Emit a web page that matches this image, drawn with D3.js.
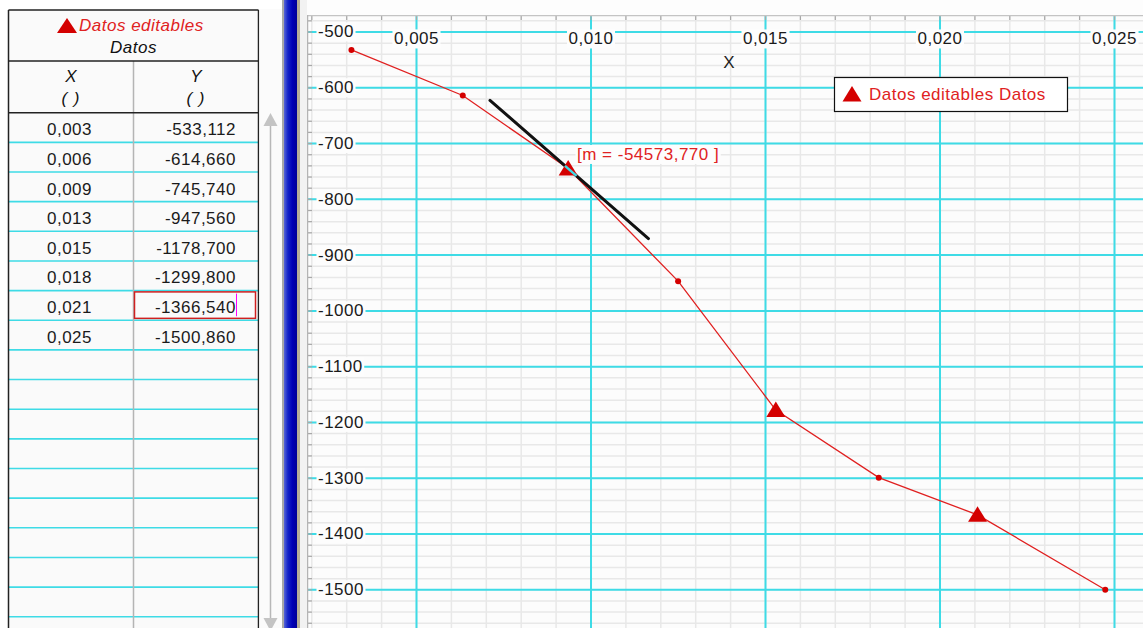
<!DOCTYPE html>
<html>
<head>
<meta charset="utf-8">
<script src="https://cdn.jsdelivr.net/npm/d3@7"></script>
<style>
    body { margin: 0; background: #fff; }
    svg { display: block; font-family: "Liberation Sans", Arial, sans-serif; }
</style>
</head>
<body>
<svg id="chart" width="1143" height="628"></svg>
<script>
// data
const xValues = [0.00315, 0.00634, 0.00936, 0.01251, 0.01531, 0.01826, 0.02109, 0.02475];
const yValues = [-533.112, -614.660, -745.740, -947.560, -1178.700, -1299.800, -1366.540, -1500.860];
const markerKinds = ["dot", "dot", "tri", "dot", "tri", "dot", "tri", "dot"];
const selectedRow = 6;

const xMajorTicks = [0.005, 0.010, 0.015, 0.020, 0.025];
const yMajorTicks = [-500, -600, -700, -800, -900, -1000, -1100, -1200, -1300, -1400, -1500];
const xMinorTicks = d3.range(2, 26).map(d => d / 1000);
const yMinorTicks = d3.range(-480, -1561, -20);

const tangentSlope = -54573.770;
const tangentPoint = 2;
const tangentX = [0.00712, 0.01166];
const tangentMarkX = [0.00927, 0.00960];

const tableTitle = "Datos editables";
const tableSubtitle = "Datos";
const columnNames = ["X", "Y"];
const columnUnits = ["( )", "( )"];
const legendLabel = "Datos editables Datos";
const xTitle = "X";

const RED = "#d40000";
const TEXT_RED = "#e02222";
const CYAN = "#3edbe6";
const FS = 17;      // font size used nearly everywhere
const LS = 0.5;     // letter spacing

const locale = d3.formatLocale({decimal: ",", thousands: ".", grouping: [3], currency: ["", ""], minus: "-"});
const fmt3 = locale.format(".3f");
const fmtInt = locale.format("d");

const svg = d3.select("#chart");
const defs = svg.append("defs");

// ---------- left panel: the data table ----------
let tbl = {left: 8.5, right: 258.5, mid: 133.5, top: 10, head1: 61, head2: 112.7, rowH: 29.65};

svg.append("rect").attr("x", tbl.left).attr("y", tbl.top)
    .attr("width", tbl.right - tbl.left).attr("height", 628 - tbl.top)
    .attr("fill", "#fafafa");

let nRows = Math.ceil((628 - tbl.head2) / tbl.rowH);
let rowLines = d3.range(1, nRows + 1).map(i => tbl.head2 + i * tbl.rowH);

svg.append("g").selectAll("line").data(rowLines).join("line")
    .attr("x1", tbl.left).attr("x2", tbl.right)
    .attr("y1", d => d).attr("y2", d => d)
    .attr("stroke", CYAN).attr("stroke-width", 1.6);

svg.append("line").attr("x1", tbl.mid).attr("x2", tbl.mid)
    .attr("y1", tbl.head1).attr("y2", 628)
    .attr("stroke", "#b4b4b4").attr("stroke-width", 1.5);

// borders
[[tbl.left, tbl.top, tbl.right, tbl.top], [tbl.left, tbl.head1, tbl.right, tbl.head1],
 [tbl.left, tbl.head2, tbl.right, tbl.head2], [tbl.left, tbl.top, tbl.left, 628],
 [tbl.right, tbl.top, tbl.right, 628]].forEach(l => {
    svg.append("line").attr("x1", l[0]).attr("y1", l[1]).attr("x2", l[2]).attr("y2", l[3])
        .attr("stroke", "#222").attr("stroke-width", 1.5);
});

// header
svg.append("path").attr("d", "M67,18 L77,33 L57,33 Z").attr("fill", RED);
svg.append("text").attr("x", 79).attr("y", 30.5).text(tableTitle)
    .attr("font-size", FS).attr("font-style", "italic").attr("letter-spacing", LS).attr("fill", TEXT_RED);
svg.append("text").attr("x", tbl.mid).attr("y", 53).text(tableSubtitle)
    .attr("font-size", FS).attr("font-style", "italic").attr("letter-spacing", LS)
    .attr("text-anchor", "middle").attr("fill", "#111");

let colCenters = [(tbl.left + tbl.mid) / 2, (tbl.mid + tbl.right) / 2];
columnNames.forEach((n, i) => {
    svg.append("text").attr("x", colCenters[i]).attr("y", 82).text(n)
        .attr("font-size", FS).attr("font-style", "italic").attr("text-anchor", "middle").attr("fill", "#111");
    svg.append("text").attr("x", colCenters[i]).attr("y", 103.5).text(columnUnits[i])
        .attr("font-size", FS).attr("font-style", "italic").attr("letter-spacing", 1)
        .attr("text-anchor", "middle").attr("fill", "#111");
});

// cells
let cells = svg.append("g").attr("font-size", FS).attr("letter-spacing", LS).attr("fill", "#1a1a1a");
cells.selectAll("text.cx").data(xValues).join("text").attr("class", "cx")
    .attr("x", colCenters[0] - 1.5).attr("y", (d, i) => tbl.head2 + i * tbl.rowH + 22.5)
    .attr("text-anchor", "middle").text(d => fmt3(d));
cells.selectAll("text.cy").data(yValues).join("text").attr("class", "cy")
    .attr("x", 236).attr("y", (d, i) => tbl.head2 + i * tbl.rowH + 22.5)
    .attr("text-anchor", "end").text(d => fmt3(d));

// edited cell
let selTop = tbl.head2 + selectedRow * tbl.rowH;
svg.append("rect").attr("x", 134.5).attr("y", selTop + 1.3)
    .attr("width", 121).attr("height", tbl.rowH - 3.2)
    .attr("fill", "none").attr("stroke", "#d02020").attr("stroke-width", 1.5);
svg.append("line").attr("x1", 236.5).attr("x2", 236.5)
    .attr("y1", selTop + 3).attr("y2", selTop + tbl.rowH - 4)
    .attr("stroke", "#ff00ff").attr("stroke-width", 1);

// scroll bar strip
svg.append("rect").attr("x", 259.3).attr("y", 9).attr("width", 22.5).attr("height", 619).attr("fill", "#fbfbfb");
svg.append("line").attr("x1", 270.5).attr("x2", 270.5).attr("y1", 124).attr("y2", 620)
    .attr("stroke", "#b8b8b8").attr("stroke-width", 1.5);
svg.append("path").attr("d", "M270.5,113 L277.5,126 L263.5,126 Z").attr("fill", "#c4c4c4");
svg.append("path").attr("d", "M270.5,631 L277.5,618 L263.5,618 Z").attr("fill", "#c4c4c4");

// splitter
let grad = defs.append("linearGradient").attr("id", "splitBlue");
grad.append("stop").attr("offset", "0%").attr("stop-color", "#5866d6");
grad.append("stop").attr("offset", "30%").attr("stop-color", "#1424c8");
grad.append("stop").attr("offset", "65%").attr("stop-color", "#0000b6");
grad.append("stop").attr("offset", "100%").attr("stop-color", "#000096");
svg.append("rect").attr("x", 282).attr("y", 0).attr("width", 2).attr("height", 628).attr("fill", "#a8a8a8");
svg.append("rect").attr("x", 284).attr("y", 0).attr("width", 13).attr("height", 628).attr("fill", "url(#splitBlue)");
svg.append("rect").attr("x", 297).attr("y", 0).attr("width", 3).attr("height", 628).attr("fill", "#b5ad98");
svg.append("rect").attr("x", 300).attr("y", 0).attr("width", 7).attr("height", 628).attr("fill", "#f2f2f2");

// ---------- right panel: the graph ----------
let plot = {left: 307, top: 15, right: 1143, bottom: 628};
let plotH = plot.bottom - plot.top;

let x = d3.scaleLinear().domain([0, 0.025]).range([241.5, 1114]);
let y = d3.scaleLinear().domain([-500, -1500]).range([31.5, 589.3]);

defs.append("clipPath").attr("id", "plotClip").append("rect")
    .attr("x", plot.left).attr("y", plot.top)
    .attr("width", plot.right - plot.left).attr("height", plotH);

svg.append("rect").attr("x", 307).attr("y", 0).attr("width", 836).attr("height", 15).attr("fill", "#fdfdfd");
let g = svg.append("g").attr("clip-path", "url(#plotClip)");

g.append("rect").attr("x", plot.left).attr("y", plot.top)
    .attr("width", plot.right - plot.left).attr("height", plotH).attr("fill", "#fcfcfc");

// minor grid
g.append("g").attr("transform", "translate(0," + plot.top + ")")
    .call(d3.axisTop(x).tickValues(xMinorTicks).tickSize(-plotH).tickFormat(""))
    .call(a => a.select(".domain").remove())
    .call(a => a.selectAll("line").attr("stroke", "#e8e8e8").attr("stroke-width", 1.5));
g.append("g").attr("transform", "translate(" + plot.left + ",0)")
    .call(d3.axisLeft(y).tickValues(yMinorTicks).tickSize(-(plot.right - plot.left)).tickFormat(""))
    .call(a => a.select(".domain").remove())
    .call(a => a.selectAll("line").attr("stroke", "#e8e8e8").attr("stroke-width", 1.5));

// major grid
g.append("g").attr("transform", "translate(0," + plot.top + ")")
    .call(d3.axisTop(x).tickValues(xMajorTicks).tickSize(-plotH).tickFormat(""))
    .call(a => a.select(".domain").remove())
    .call(a => a.selectAll("line").attr("stroke", CYAN).attr("stroke-width", 2));
g.append("g").attr("transform", "translate(" + plot.left + ",0)")
    .call(d3.axisLeft(y).tickValues(yMajorTicks).tickSize(-(plot.right - plot.left)).tickFormat(""))
    .call(a => a.select(".domain").remove())
    .call(a => a.selectAll("line").attr("stroke", CYAN).attr("stroke-width", 2));

// axis lines + small ticks
g.append("g").attr("transform", "translate(0," + plot.top + ")")
    .call(d3.axisTop(x).tickValues(xMinorTicks).tickSize(-5).tickFormat(""))
    .call(a => a.select(".domain").remove())
    .call(a => a.selectAll("line").attr("stroke", "#a8a8a8").attr("stroke-width", 1.2));
g.append("g").attr("transform", "translate(" + plot.left + ",0)")
    .call(d3.axisLeft(y).tickValues(yMinorTicks).tickSize(-5).tickFormat(""))
    .call(a => a.select(".domain").remove())
    .call(a => a.selectAll("line").attr("stroke", "#a8a8a8").attr("stroke-width", 1.2));
g.append("line").attr("x1", plot.left).attr("x2", plot.right).attr("y1", plot.top + 0.5).attr("y2", plot.top + 0.5)
    .attr("stroke", "#c4c4c4").attr("stroke-width", 1.5);
g.append("line").attr("x1", plot.left + 0.5).attr("x2", plot.left + 0.5).attr("y1", plot.top).attr("y2", plot.bottom)
    .attr("stroke", "#b4b4b4").attr("stroke-width", 1.5);

// data line
let pts = xValues.map((d, i) => [d, yValues[i]]);
g.append("path").datum(pts)
    .attr("d", d3.line().x(d => x(d[0])).y(d => y(d[1])))
    .attr("fill", "none").attr("stroke", "#e02020").attr("stroke-width", 1.3);

// tangent line at the selected point
let tanY = xx => yValues[tangentPoint] + tangentSlope * (xx - xValues[tangentPoint]);
g.append("line")
    .attr("x1", x(tangentX[0])).attr("y1", y(tanY(tangentX[0])))
    .attr("x2", x(tangentX[1])).attr("y2", y(tanY(tangentX[1])))
    .attr("stroke", "#111").attr("stroke-width", 3).attr("stroke-linecap", "round");

// markers
let markers = g.append("g");
markers.selectAll("circle").data(pts.filter((d, i) => markerKinds[i] === "dot")).join("circle")
    .attr("cx", d => x(d[0])).attr("cy", d => y(d[1])).attr("r", 3).attr("fill", RED);
markers.selectAll("path").data(pts.filter((d, i) => markerKinds[i] === "tri")).join("path")
    .attr("transform", d => "translate(" + x(d[0]) + "," + y(d[1]) + ")")
    .attr("d", "M0,-8.5 L9.5,7 L-9.5,7 Z").attr("fill", RED);

g.append("line")
    .attr("x1", x(tangentMarkX[0])).attr("y1", y(tanY(tangentMarkX[0])))
    .attr("x2", x(tangentMarkX[1])).attr("y2", y(tanY(tangentMarkX[1])))
    .attr("stroke", CYAN).attr("stroke-width", 2.5);

// tick labels with a white box behind them
function boxedText(parent, tx, ty, str, anchor, color, padX) {
    let grp = parent.append("g");
    let r = grp.append("rect").attr("fill", "#fdfdfd");
    let t = grp.append("text").attr("x", tx).attr("y", ty).attr("dy", "0.35em")
        .attr("text-anchor", anchor).attr("font-size", FS).attr("letter-spacing", LS)
        .attr("fill", color).text(str);
    let b = t.node().getBBox();
    r.attr("x", b.x - padX).attr("y", b.y).attr("width", b.width + 2 * padX).attr("height", b.height);
    return grp;
}

let labels = g.append("g");
yMajorTicks.forEach(v => boxedText(labels, 318, y(v), fmtInt(v), "start", "#1a1a1a", 1.5));
xMajorTicks.forEach(v => boxedText(labels, x(v) + 0.5, 38.5, fmt3(v), "middle", "#1a1a1a", 1.5));

// slope annotation
boxedText(g, 577, 154, "[m = " + fmt3(tangentSlope) + " ]", "start", TEXT_RED, 1.5);

// axis title
g.append("text").attr("x", 729).attr("y", 62).attr("dy", "0.35em")
    .attr("text-anchor", "middle").attr("font-size", FS).attr("fill", "#222").text(xTitle);

// legend
let leg = g.append("g");
leg.append("rect").attr("x", 834.5).attr("y", 77.5).attr("width", 233).attr("height", 34)
    .attr("fill", "#fff").attr("stroke", "#111").attr("stroke-width", 1.2);
leg.append("path").attr("transform", "translate(852,94.5)")
    .attr("d", "M0,-8.5 L9.5,7 L-9.5,7 Z").attr("fill", RED);
leg.append("text").attr("x", 869).attr("y", 94.5).attr("dy", "0.35em")
    .attr("font-size", FS).attr("letter-spacing", LS).attr("fill", TEXT_RED).text(legendLabel);
</script>
</body>
</html>
